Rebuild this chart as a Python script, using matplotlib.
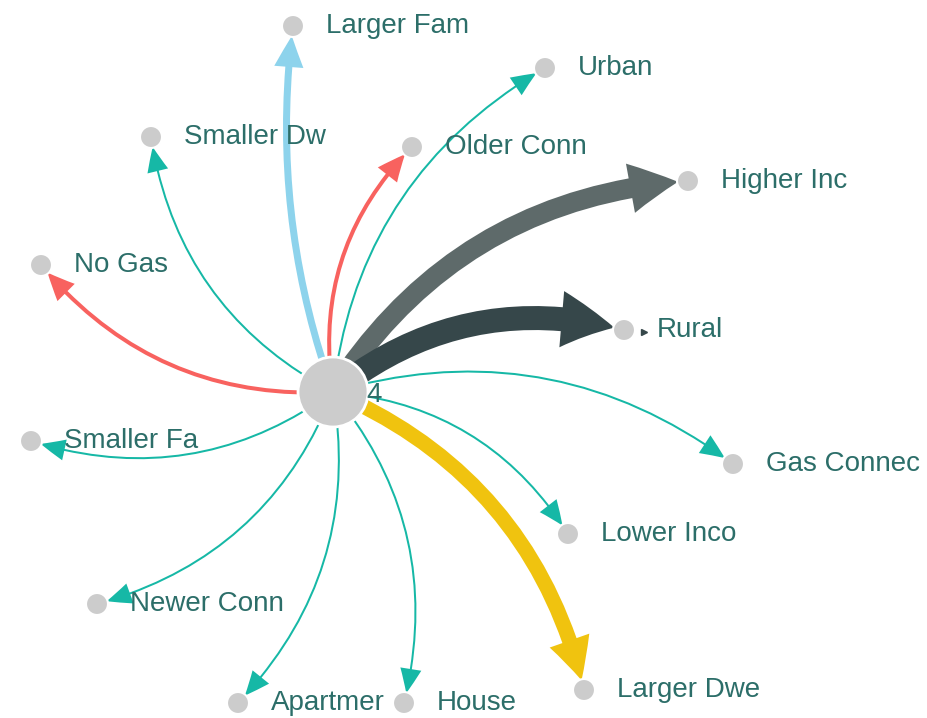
import matplotlib.pyplot as plt
from matplotlib.patches import FancyArrowPatch, ArrowStyle, Circle

# outer nodes and the weight of the edge from the centre node "4"
labels = ["Larger Fam", "Urban", "Smaller Dw", "Older Conn", "Higher Inc", "No Gas",
          "Rural", "Smaller Fa", "Gas Connec", "Lower Inco", "Newer Conn",
          "Apartmer", "House", "Larger Dwe"]
weights = [3.5, 1, 1, 2, 10, 2, 12, 1, 1, 1, 1, 1, 1, 7.5]
groups = ["blue", "teal", "teal", "red", "gray", "red", "dark", "teal", "teal",
          "teal", "teal", "teal", "teal", "yellow"]
center_label = "4"

# layout (pixel positions of the force layout)
center_pos = (333, 392)
node_x = [293, 545, 151, 412, 688, 41, 624, 31, 733, 568, 97, 238, 404, 584]
node_y = [26, 68, 137, 147, 181, 265, 330, 441, 464, 534, 604, 703, 703, 690]
bend = [-0.12, -0.25, -0.25, -0.25, -0.25, -0.25, -0.25, -0.25, -0.25,
        -0.25, -0.25, -0.25, -0.25, -0.25]

palette = {"teal": "#16b8a6", "red": "#f8625f", "blue": "#8dd3ec",
           "gray": "#5e6a6a", "dark": "#36474a", "yellow": "#f0c30f"}
text_color = "#2c6e69"
node_color = "#cccccc"
px = 0.72  # pixel -> point at dpi 100

fig = plt.figure(figsize=(9.28, 7.18), dpi=100)
ax = fig.add_axes([0, 0, 1, 1])
ax.set_xlim(0, 928)
ax.set_ylim(718, 0)
ax.axis("off")

for x, y, w, g, rad in zip(node_x, node_y, weights, groups, bend):
    lw = 2 * w
    style = ArrowStyle.Simple(head_length=(22 + 1.3 * lw) * px,
                              head_width=(18 + 1.6 * lw) * px,
                              tail_width=lw * px)
    arrow = FancyArrowPatch(center_pos, (x, y), arrowstyle=style,
                            connectionstyle=f"arc3,rad={rad}",
                            mutation_scale=1, shrinkA=0, shrinkB=10 * px,
                            facecolor=palette[g], edgecolor="none", zorder=1)
    ax.add_patch(arrow)

for x, y, lab in zip(node_x, node_y, labels):
    ax.add_patch(Circle((x, y), 11, facecolor=node_color, edgecolor="white",
                        linewidth=1.5, zorder=2))
    ax.text(x + 33, y, lab, color=text_color, fontsize=20, va="center",
            ha="left", family="Liberation Sans", zorder=3)

ax.add_patch(Circle(center_pos, 35, facecolor=node_color, edgecolor="white",
                    linewidth=2, zorder=2))
ax.text(center_pos[0] + 33, center_pos[1] + 3, center_label, color=text_color,
        fontsize=20, va="center", ha="left", family="Liberation Sans", zorder=3)

# small leftover marker next to Rural
ax.plot(node_x[6] + 20, node_y[6] + 2, marker=">", markersize=4,
        color=palette["dark"], zorder=2)

fig.savefig("out.png", dpi=100)
